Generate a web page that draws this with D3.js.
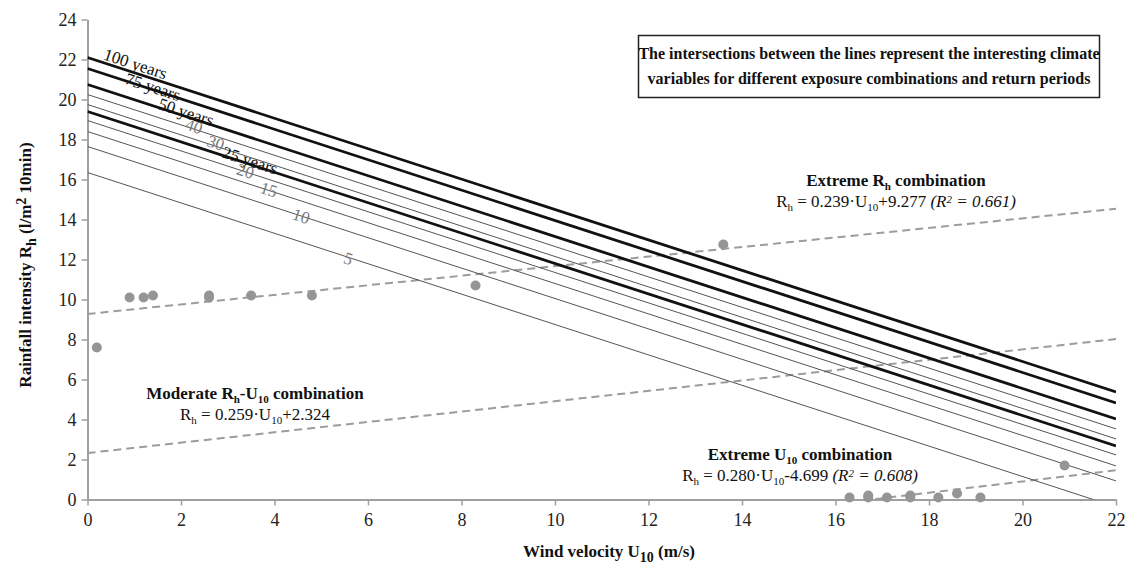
<!DOCTYPE html>
<html>
<head>
<meta charset="utf-8">
<script src="https://cdn.jsdelivr.net/npm/d3@7"></script>
<style>
  body { margin: 0; background: #fff; }
  svg text { font-family: "Liberation Serif", "DejaVu Serif", serif; }
</style>
</head>
<body>
<svg width="1132" height="575"></svg>
<script>
// return period lines (value at U10 = 0 and at U10 = 22)
const periods    = ['5', '10', '15', '20', '25 years', '30', '40', '50 years', '75 years', '100 years'];
const periodY0   = [16.35, 17.65, 18.4, 18.95, 19.4, 19.75, 20.25, 20.75, 21.55, 22.1];
const periodY22  = [-0.37, 0.93, 1.68, 2.23, 2.68, 3.03, 3.53, 4.03, 4.83, 5.38];
const periodMain = [false, false, false, false, true, false, false, true, true, true];
// where the labels sit on their lines
const labelAt    = [5.5, 4.4, 3.7, 3.2, 2.87, 2.55, 2.09, 1.5, 0.8, 0.3];
const labelDy    = [7, 6, 5, 5, 2, 2.5, 3, 1.5, 3, -3];

// observed points
const windObs = [0.2, 0.9, 1.2, 1.4, 2.6, 2.6, 3.5, 4.8, 8.3, 13.6, 16.3, 16.7, 16.7, 17.1, 17.6, 17.6, 18.2, 18.6, 19.1, 20.9];
const rainObs = [7.6, 10.1, 10.1, 10.2, 10.2, 10.1, 10.2, 10.2, 10.7, 12.75, 0.1, 0.2, 0.1, 0.1, 0.2, 0.1, 0.1, 0.3, 0.1, 1.7];

// trend lines (start / end)
const trendX = [[0, 22], [0, 22], [16.3, 22]];
const trendY = [[9.277, 14.535], [2.324, 8.022], [-0.135, 1.461]];

const xTicks = d3.range(0, 23, 2);
const yTicks = d3.range(0, 25, 2);

const FONT = '"Liberation Serif", "DejaVu Serif", serif';
const AXIS = '#a0a0a0';
const DOT = '#959595';

const svg = d3.select('svg');

const x = d3.scaleLinear().domain([0, 22]).range([87.5, 1116]);
const y = d3.scaleLinear().domain([0, 24]).range([499.5, 19.5]);

svg.append('clipPath').attr('id', 'plot')
  .append('rect')
  .attr('x', x(0)).attr('y', y(24))
  .attr('width', x(22) - x(0)).attr('height', y(0) - y(24));

// axes
const xAxis = svg.append('g')
  .attr('transform', 'translate(0,' + y(0) + ')')
  .call(d3.axisBottom(x).tickValues(xTicks).tickSize(6).tickSizeOuter(0).tickPadding(8));
const yAxis = svg.append('g')
  .attr('transform', 'translate(' + x(0) + ',0)')
  .call(d3.axisLeft(y).tickValues(yTicks).tickSize(6).tickSizeOuter(0).tickPadding(5));

[xAxis, yAxis].forEach(a => {
  a.attr('font-family', FONT).attr('font-size', 18);
  a.select('.domain').attr('stroke', AXIS).attr('stroke-width', 2);
  a.selectAll('.tick line').attr('stroke', AXIS).attr('stroke-width', 1.5);
  a.selectAll('.tick text').attr('fill', '#222');
});

// rich text helper: parts = [text, kind] kind: '', 'sub', 'sup', 'i', 'isup'
function rich(sel, parts, small, shift) {
  let back = 0;
  parts.forEach(p => {
    const t = sel.append('tspan').text(p[0]);
    const k = p[1] || '';
    let dy = back;
    back = 0;
    if (k === 'sub') {
      t.attr('font-size', small);
      dy += shift;
      back = -shift;
    } else if (k === 'sup' || k === 'isup') {
      t.attr('font-size', small);
      if (k === 'isup') t.attr('font-style', 'italic');
      dy -= shift;
      back = shift;
    } else if (k === 'i') {
      t.attr('font-style', 'italic');
    }
    if (dy) t.attr('dy', dy);
  });
  return sel;
}

// dashed trend lines
const trend = svg.append('g').attr('clip-path', 'url(#plot)');
trendX.forEach((xs, i) => {
  trend.append('line')
    .attr('x1', x(xs[0])).attr('y1', y(trendY[i][0]))
    .attr('x2', x(xs[1])).attr('y2', y(trendY[i][1]))
    .attr('stroke', '#9c9c9c')
    .attr('stroke-width', 2)
    .attr('stroke-dasharray', '8,5');
});

// return period lines
const lines = svg.append('g').attr('clip-path', 'url(#plot)');
periods.forEach((p, i) => {
  lines.append('line')
    .attr('x1', x(0)).attr('y1', y(periodY0[i]))
    .attr('x2', x(22)).attr('y2', y(periodY22[i]))
    .attr('stroke', periodMain[i] ? '#111' : '#555')
    .attr('stroke-width', periodMain[i] ? 2.8 : 1);
});

// labels along the lines
const angle = Math.atan2(y(periodY22[0]) - y(periodY0[0]), x(22) - x(0)) * 180 / Math.PI;
periods.forEach((p, i) => {
  const u = labelAt[i];
  const v = periodY0[i] + (periodY22[i] - periodY0[i]) * u / 22;
  svg.append('text')
    .attr('transform', 'translate(' + x(u) + ',' + y(v) + ') rotate(' + angle + ')')
    .attr('dy', labelDy[i])
    .attr('fill', periodMain[i] ? '#111' : '#7a7a7a')
    .attr('font-size', 17)
    .text(p);
});

// points
svg.append('g').selectAll('circle')
  .data(windObs)
  .join('circle')
  .attr('cx', d => x(d))
  .attr('cy', (d, i) => y(rainObs[i]))
  .attr('r', 5)
  .attr('fill', DOT);

// annotations
function note(cx, by, title, eq) {
  const t1 = svg.append('text')
    .attr('x', cx).attr('y', by)
    .attr('text-anchor', 'middle')
    .attr('font-size', 17).attr('font-weight', 'bold')
    .attr('fill', '#111');
  rich(t1, title, 11, 4);
  const t2 = svg.append('text')
    .attr('x', cx).attr('y', by + 21)
    .attr('text-anchor', 'middle')
    .attr('font-size', 17)
    .attr('fill', '#111');
  rich(t2, eq, 11, 4);
}

note(896, 186,
  [['Extreme R'], ['h', 'sub'], [' combination']],
  [['R'], ['h', 'sub'], [' = 0.239\u00b7U'], ['10', 'sub'], ['+9.277 '], ['(R', 'i'], ['2', 'isup'], [' = 0.661)', 'i']]);

note(255, 399,
  [['Moderate R'], ['h', 'sub'], ['-U'], ['10', 'sub'], [' combination']],
  [['R'], ['h', 'sub'], [' = 0.259\u00b7U'], ['10', 'sub'], ['+2.324']]);

note(800, 460,
  [['Extreme U'], ['10', 'sub'], [' combination']],
  [['R'], ['h', 'sub'], [' = 0.280\u00b7U'], ['10', 'sub'], ['-4.699 '], ['(R', 'i'], ['2', 'isup'], [' = 0.608)', 'i']]);

// boxed remark
svg.append('rect')
  .attr('x', 638.5).attr('y', 35.5)
  .attr('width', 461).attr('height', 62)
  .attr('fill', '#fff')
  .attr('stroke', '#222')
  .attr('stroke-width', 1.5);
['The intersections between the lines represent the interesting climate',
 'variables for different exposure combinations and return periods'].forEach((s, i) => {
  svg.append('text')
    .attr('x', 869).attr('y', 59 + i * 25)
    .attr('text-anchor', 'middle')
    .attr('font-size', 16).attr('font-weight', 'bold')
    .attr('fill', '#111')
    .text(s);
});

// axis titles
const xt = svg.append('text')
  .attr('x', 609).attr('y', 557)
  .attr('text-anchor', 'middle')
  .attr('font-size', 17).attr('font-weight', 'bold')
  .attr('fill', '#111');
rich(xt, [['Wind velocity U'], ['10', 'sub'], [' (m/s)']], 14, 5);

const yt = svg.append('text')
  .attr('transform', 'translate(31,265) rotate(-90)')
  .attr('text-anchor', 'middle')
  .attr('font-size', 17).attr('font-weight', 'bold')
  .attr('fill', '#111');
rich(yt, [['Rainfall intensity R'], ['h', 'sub'], [' (l/m'], ['2', 'sup'], [' 10min)']], 14, 5);
</script>
</body>
</html>
